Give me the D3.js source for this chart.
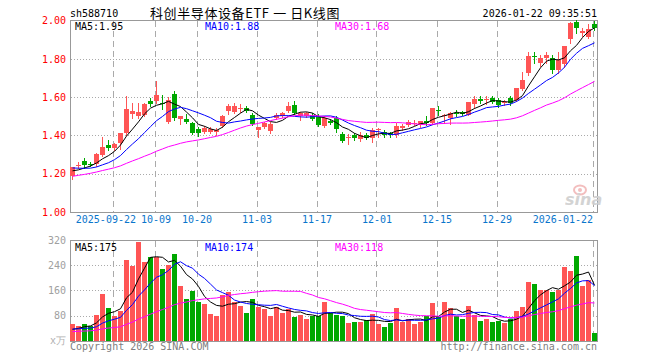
<!DOCTYPE html>
<html><head><meta charset="utf-8">
<script src="https://cdn.jsdelivr.net/npm/d3@7"></script>
<style>body{margin:0;background:#fff}svg{display:block}</style>
</head><body><svg id="c" width="660" height="360"></svg>
<script>
// ---- data ----
const dates = [
"2025-09-11","2025-09-12","2025-09-15","2025-09-16","2025-09-17","2025-09-18","2025-09-19","2025-09-22","2025-09-23","2025-09-24","2025-09-25","2025-09-26","2025-09-29","2025-09-30",
"2025-10-09","2025-10-10","2025-10-13","2025-10-14","2025-10-15","2025-10-16","2025-10-17","2025-10-20","2025-10-21","2025-10-22","2025-10-23","2025-10-24","2025-10-27","2025-10-28","2025-10-29","2025-10-30","2025-10-31",
"2025-11-03","2025-11-04","2025-11-05","2025-11-06","2025-11-07","2025-11-10","2025-11-11","2025-11-12","2025-11-13","2025-11-14","2025-11-17","2025-11-18","2025-11-19","2025-11-20","2025-11-21","2025-11-24","2025-11-25","2025-11-26","2025-11-27","2025-11-28",
"2025-12-01","2025-12-02","2025-12-03","2025-12-04","2025-12-05","2025-12-08","2025-12-09","2025-12-10","2025-12-11","2025-12-12","2025-12-15","2025-12-16","2025-12-17","2025-12-18","2025-12-19","2025-12-22","2025-12-23","2025-12-24","2025-12-25","2025-12-26","2025-12-29","2025-12-30","2025-12-31",
"2026-01-05","2026-01-06","2026-01-07","2026-01-08","2026-01-09","2026-01-12","2026-01-13","2026-01-14","2026-01-15","2026-01-16","2026-01-19","2026-01-20","2026-01-21","2026-01-22"];
const open  = [1.19,1.245,1.268,1.252,1.25,1.30,1.35,1.334,1.36,1.412,1.512,1.50,1.508,1.582,
 1.578,1.57,1.472,1.616,1.485,1.485,1.467,1.436,1.42,1.42,1.418,1.45,1.525,1.523,1.54,1.542,1.507,
 1.43,1.442,1.423,1.49,1.50,1.525,1.56,1.502,1.50,1.507,1.499,1.45,1.476,1.49,1.407,1.389,1.403,1.381,1.403,1.386,
 1.43,1.42,1.412,1.403,1.438,1.452,1.462,1.455,1.473,1.464,1.532,1.502,1.49,1.518,1.52,1.507,1.563,1.588,1.585,1.595,1.585,1.57,1.595,
 1.585,1.642,1.725,1.815,1.777,1.803,1.803,1.742,1.774,1.902,1.994,1.937,1.916,1.982];
const high  = [1.236,1.26,1.282,1.262,1.31,1.394,1.376,1.36,1.415,1.607,1.568,1.568,1.567,1.595,
 1.684,1.61,1.598,1.634,1.502,1.512,1.47,1.446,1.447,1.445,1.44,1.505,1.565,1.567,1.565,1.555,1.515,
 1.446,1.47,1.47,1.515,1.52,1.576,1.58,1.52,1.52,1.515,1.51,1.50,1.485,1.50,1.419,1.407,1.415,1.42,1.415,1.441,
 1.44,1.43,1.42,1.466,1.46,1.48,1.48,1.475,1.50,1.545,1.551,1.51,1.52,1.535,1.525,1.575,1.607,1.607,1.607,1.605,1.595,1.585,1.605,
 1.65,1.733,1.838,1.838,1.82,1.838,1.82,1.838,1.867,1.99,2.005,1.96,1.98,1.995];
const low   = [1.172,1.23,1.232,1.238,1.24,1.29,1.325,1.325,1.33,1.40,1.493,1.49,1.50,1.551,
 1.57,1.54,1.465,1.48,1.46,1.466,1.405,1.398,1.415,1.41,1.403,1.445,1.51,1.515,1.52,1.52,1.455,
 1.391,1.438,1.415,1.485,1.495,1.52,1.51,1.48,1.495,1.48,1.45,1.445,1.46,1.42,1.365,1.357,1.375,1.37,1.38,1.365,
 1.39,1.39,1.39,1.394,1.43,1.45,1.455,1.445,1.455,1.46,1.507,1.464,1.46,1.50,1.505,1.505,1.545,1.568,1.565,1.57,1.55,1.56,1.56,
 1.58,1.635,1.715,1.78,1.765,1.78,1.728,1.728,1.755,1.885,1.935,1.92,1.91,1.95];
const close = [1.233,1.248,1.245,1.248,1.305,1.342,1.332,1.356,1.412,1.539,1.525,1.522,1.563,1.563,
 1.613,1.565,1.585,1.49,1.50,1.47,1.415,1.412,1.441,1.433,1.428,1.50,1.555,1.552,1.545,1.528,1.462,
 1.443,1.465,1.462,1.507,1.516,1.551,1.516,1.516,1.515,1.485,1.455,1.49,1.467,1.435,1.372,1.394,1.386,1.403,1.386,1.429,
 1.435,1.403,1.40,1.45,1.45,1.47,1.466,1.473,1.464,1.542,1.528,1.507,1.516,1.514,1.51,1.572,1.59,1.582,1.59,1.577,1.559,1.574,1.568,
 1.647,1.69,1.815,1.81,1.803,1.82,1.742,1.795,1.867,1.986,1.96,1.946,1.955,1.96];
const volume = [53,47,53,48,82,148,104,79,94,256,238,314,250,266,
 266,229,240,275,174,133,158,123,116,85,79,145,155,124,110,88,132,
 108,102,79,108,88,102,76,82,70,79,79,124,88,83,79,56,59,59,67,85,
 53,43,56,104,59,69,53,59,78,120,75,123,104,78,69,110,82,63,69,59,63,56,69,
 94,107,186,180,161,161,155,161,234,221,269,174,193,24];
// estimated history before the first shown day (used only to seed the moving averages)
const priorClose = [1.09,1.10,1.08,1.10,1.11,1.12,1.13,1.12,1.14,1.15,1.17,1.18,1.20,1.19,1.21,1.22,1.24,1.23,1.25,1.26,
 1.26,1.25,1.24,1.245,1.23,1.223,1.195,1.198,1.226];
const priorVolume = [22,25,28,20,24,26,30,23,21,27,25,24,28,26,22,27,25,29,24,24,
 40,36,42,38,34,30,28,35,34];
const priceTicks = [1.00,1.20,1.40,1.60,1.80,2.00];
const volumeTicks = [80,160,240,320];
const tickDates  = ["2025-09-22","2025-10-09","2025-10-20","2025-11-03","2025-11-17","2025-12-01","2025-12-15","2025-12-29","2026-01-22"];
const tickLabels = ["2025-09-22","10-09","10-20","11-03","11-17","12-01","12-15","12-29","2026-01-22"];
const maPeriods = [5,10,30];
const maColors = ["#000000","#0000ff","#ff00ff"];
const priceMaLegend = ["1.95","1.88","1.68"];
const volumeMaLegend = ["175","174","118"];
const code = "sh588710";
const title = "科创半导体设备ETF 一 日K线图";
const stamp = "2026-01-22 09:35:51";

// ---- drawing ----
const svg = d3.select("#c");
const MONO = "'DejaVu Sans Mono', 'Liberation Mono', monospace";
const RED = "#ff5555", GREEN = "#00a800", GRID = "#aaaaaa", FRAME = "#999999";
const L = 70, R = 597, T = 20, B = 212, VT = 240, VB = 341;
const n = close.length;

const x = d3.scaleBand().domain(d3.range(n)).range([69.5, 597.5]);
const cx = i => x(i) + x.bandwidth() / 2;
const gx = d3.scaleLinear().domain([0, n - 1]).range([cx(0) - 2, cx(n - 1) - 2]);
const y = d3.scaleLinear().domain([1.0, 2.0]).range([212, 20.5]);
const yv = d3.scaleLinear().domain([0, 320]).range([340.7, 240]);

function movingAvg(series, prior, p) {
  const all = prior.concat(series), off = prior.length;
  return series.map((_, i) => d3.mean(all.slice(i + off - p + 1, i + off + 1)));
}
const crisp = v => Math.round(v) + 0.5;

// frames
svg.append("rect").attr("x", L + 0.5).attr("y", T + 0.5).attr("width", R - L).attr("height", B - T)
  .attr("fill", "none").attr("stroke", FRAME);
svg.append("rect").attr("x", L + 0.5).attr("y", VT + 0.5).attr("width", R - L).attr("height", VB - VT)
  .attr("fill", "none").attr("stroke", FRAME);

// horizontal grid
const g = svg.append("g");
priceTicks.filter(t => t > 1.0 && t < 2.0).forEach(t => {
  g.append("line").attr("x1", L + 1).attr("x2", R).attr("y1", crisp(y(t))).attr("y2", crisp(y(t)))
    .attr("stroke", GRID).attr("stroke-dasharray", "1,2");
});
volumeTicks.filter(t => t < 320).forEach(t => {
  g.append("line").attr("x1", L + 1).attr("x2", R).attr("y1", crisp(yv(t))).attr("y2", crisp(yv(t)))
    .attr("stroke", GRID).attr("stroke-dasharray", "1,2");
});
// vertical grid
const tickIdx = tickDates.map(d => dates.indexOf(d));
tickIdx.forEach(i => {
  const xx = crisp(gx(i));
  g.append("line").attr("x1", xx).attr("x2", xx).attr("y1", T + 1).attr("y2", B)
    .attr("stroke", GRID).attr("stroke-dasharray", "6,4");
  g.append("line").attr("x1", xx).attr("x2", xx).attr("y1", VT + 1).attr("y2", VB)
    .attr("stroke", GRID).attr("stroke-dasharray", "6,4");
});

// watermark
const wm = svg.append("g").attr("opacity", 0.9);
wm.append("ellipse").attr("cx", 580).attr("cy", 190).attr("rx", 6).attr("ry", 4.5)
  .attr("fill", "none").attr("stroke", "#f2b8b8").attr("stroke-width", 2);
wm.append("circle").attr("cx", 580).attr("cy", 190).attr("r", 2).attr("fill", "#f2b8b8");
wm.append("text").attr("x", 565).attr("y", 205).text("sina")
  .attr("font-family", "'DejaVu Sans', sans-serif").attr("font-weight", "bold").attr("font-style", "italic")
  .attr("font-size", 16).attr("fill", "#cfcfcf");

// price axis
const ay = svg.append("g").attr("transform", `translate(${L - 4},0)`)
  .call(d3.axisLeft(y).tickValues(priceTicks).tickSize(0).tickPadding(0).tickFormat(d3.format(".2f")));
ay.select(".domain").remove();
ay.selectAll("text").attr("fill", "#ff0000").attr("font-family", MONO).attr("font-size", 10);

// volume axis
const av = svg.append("g").attr("transform", `translate(${L - 4},0)`)
  .call(d3.axisLeft(yv).tickValues(volumeTicks).tickSize(0).tickPadding(0));
av.select(".domain").remove();
av.selectAll("text").attr("fill", "#a0a0a0").attr("font-family", MONO).attr("font-size", 10);
svg.append("text").attr("x", L - 4).attr("y", VB + 3).attr("text-anchor", "end")
  .attr("font-family", MONO).attr("font-size", 10).attr("fill", "#b0b0b0").text("x万");

// date axis
const lastK = tickLabels.length - 1;
const ax = svg.append("g").attr("transform", `translate(0,${B + 4})`)
  .call(d3.axisBottom(gx).tickValues(tickIdx).tickSize(0).tickPadding(0)
    .tickFormat((d, k) => tickLabels[k]));
ax.select(".domain").remove();
ax.selectAll("text").attr("fill", "#0a76cc").attr("font-family", MONO).attr("font-size", 10)
  .attr("text-anchor", (d, k) => (k === lastK) ? "end" : (k === 0 ? "end" : "middle"))
  .attr("dx", (d, k) => k === 0 ? 23 : (k === 1 ? 1 : 0));

// candles
const col = i => close[i] >= open[i] ? RED : GREEN;
const cg = svg.append("g");
d3.range(n).forEach(i => {
  const c = col(i);
  cg.append("line").attr("x1", cx(i)).attr("x2", cx(i))
    .attr("y1", Math.round(y(high[i]))).attr("y2", Math.round(y(low[i])) + 1).attr("stroke", c);
  const top = Math.round(y(Math.max(open[i], close[i])));
  const bot = Math.round(y(Math.min(open[i], close[i])));
  cg.append("rect").attr("x", x(i) + 0.5).attr("y", top).attr("width", x.bandwidth() - 1)
    .attr("height", Math.max(1, bot - top)).attr("fill", c).attr("shape-rendering", "crispEdges");
});

// volume bars
svg.append("g").selectAll("rect").data(volume).join("rect")
  .attr("x", (d, i) => x(i) + 0.5).attr("width", x.bandwidth() - 1)
  .attr("y", d => Math.round(yv(d))).attr("height", d => Math.round(yv(0)) - Math.round(yv(d)))
  .attr("fill", (d, i) => col(i)).attr("shape-rendering", "crispEdges");

// moving averages
const line = d3.line().x((d, i) => cx(i));
maPeriods.forEach((p, k) => {
  const m = movingAvg(close, priorClose, p);
  svg.append("path").attr("d", line.y(d => y(d))(m)).attr("fill", "none")
    .attr("stroke", maColors[k]).attr("stroke-width", 1);
  const mv = movingAvg(volume, priorVolume, p);
  svg.append("path").attr("d", line.y(d => yv(d))(mv)).attr("fill", "none")
    .attr("stroke", maColors[k]).attr("stroke-width", 1);
});

// legends
const legX = [75, 205, 335];
maPeriods.forEach((p, k) => {
  svg.append("text").attr("x", legX[k]).attr("y", 30).attr("fill", maColors[k])
    .attr("font-family", MONO).attr("font-size", 10).text(`MA${p}:${priceMaLegend[k]}`);
  svg.append("text").attr("x", legX[k]).attr("y", 250.5).attr("fill", maColors[k])
    .attr("font-family", MONO).attr("font-size", 10).text(`MA${p}:${volumeMaLegend[k]}`);
});

// header & footer
svg.append("text").attr("x", L).attr("y", 17).attr("font-family", MONO).attr("font-size", 10)
  .attr("fill", "#000").text(code);
svg.append("text").attr("x", 150).attr("y", 18).attr("font-family", "'Noto Sans CJK SC', sans-serif")
  .attr("font-size", 13).attr("letter-spacing", 0.6).attr("fill", "#000").attr("xml:space", "preserve")
  .style("white-space", "pre").text(title);
svg.append("text").attr("x", R).attr("y", 16.5).attr("text-anchor", "end").attr("font-family", MONO)
  .attr("font-size", 10).attr("fill", "#000").text(stamp);
svg.append("text").attr("x", L).attr("y", 349.5).attr("font-family", MONO).attr("font-size", 10)
  .attr("fill", "#808080").text("Copyright 2026 SINA.COM");
svg.append("text").attr("x", R).attr("y", 349.5).attr("text-anchor", "end").attr("font-family", MONO)
  .attr("font-size", 10).attr("fill", "#808080").text("http://finance.sina.com.cn");
</script></body></html>
